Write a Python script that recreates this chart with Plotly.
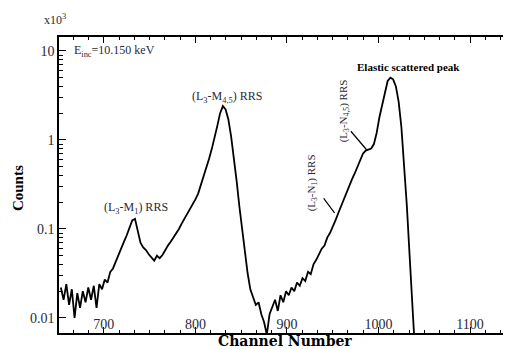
import plotly.graph_objects as go

channels = list(range(653, 1041, 3))
counts = [
    0.022, 0.016, 0.024, 0.014, 0.021, 0.010, 0.019, 0.013, 0.020, 0.015,
    0.022, 0.016, 0.023, 0.013, 0.024, 0.021, 0.027, 0.025, 0.033, 0.036,
    0.043, 0.052, 0.060, 0.072, 0.085, 0.105, 0.125, 0.130, 0.095, 0.070,
    0.062, 0.058, 0.052, 0.048, 0.044, 0.050, 0.047, 0.051, 0.058, 0.065,
    0.072, 0.080, 0.090, 0.100, 0.115, 0.130, 0.145, 0.165, 0.190, 0.215,
    0.250, 0.31, 0.38, 0.48, 0.62, 0.80, 1.05, 1.45, 2.0, 2.4,
    2.2, 1.7, 1.1, 0.65, 0.35, 0.18, 0.10, 0.055, 0.032, 0.021,
    0.017, 0.014, 0.015, 0.011, 0.009, 0.0065, 0.011, 0.013, 0.016, 0.012,
    0.018, 0.015, 0.020, 0.018, 0.022, 0.020, 0.025, 0.023, 0.028, 0.026,
    0.033, 0.031, 0.040, 0.045, 0.052, 0.060, 0.065, 0.080, 0.090, 0.105,
    0.125, 0.150, 0.180, 0.21, 0.25, 0.30, 0.36, 0.42, 0.50, 0.60,
    0.70, 0.76, 0.78, 0.80, 0.90, 1.20, 1.80, 2.40, 3.40, 4.60,
    5.0, 4.8, 4.0, 2.7, 1.4, 0.55, 0.18, 0.05, 0.012, 0.004,
]

x_tickvals = [700, 800, 900, 1000, 1100]
x_ticktext = ["700", "800", "900", "1000", "1100"]
y_tickvals = [0.01, 0.1, 1, 10]
y_ticktext = ["0.01", "0.1", "1", "10"]
y_minor = [m * d for d in (0.01, 0.1, 1) for m in range(2, 10)]

serif = "Liberation Serif"
ink = "#2a2a3a"
y_range = [-2.169, 1.157]

fig = go.Figure()
fig.add_trace(go.Scatter(x=channels, y=counts, mode="lines",
                         line=dict(color="black", width=1.8), showlegend=False))
# invisible helper trace on the minor-tick axis
fig.add_trace(go.Scatter(x=[channels[0]], y=[counts[0]], yaxis="y2", mode="markers",
                         marker=dict(opacity=0), showlegend=False, hoverinfo="skip"))

fig.update_layout(
    width=506, height=349,
    margin=dict(l=59, r=3, t=37, b=16),
    paper_bgcolor="white", plot_bgcolor="white",
    font=dict(family=serif, color=ink, size=14),
    xaxis=dict(
        range=[651, 1136], showgrid=False, zeroline=False,
        showline=True, linecolor="black", linewidth=1.5, mirror="ticks",
        ticks="inside", ticklen=6, tickcolor="black",
        tickvals=x_tickvals, ticktext=x_ticktext,
        ticklabelstandoff=-23, tickfont=dict(size=14, color=ink),
        minor=dict(ticks="inside", ticklen=3, dtick=100 / 6, tick0=700,
                   tickcolor="black", showgrid=False),
    ),
    yaxis=dict(
        type="log", range=y_range, showgrid=False, zeroline=False,
        showline=True, linecolor="black", linewidth=1.5,
        ticks="inside", ticklen=7, tickcolor="black",
        tickvals=y_tickvals, ticktext=y_ticktext,
        tickfont=dict(size=14, color=ink),
    ),
    yaxis2=dict(
        type="log", range=y_range, overlaying="y", side="left", anchor="x",
        showgrid=False, zeroline=False, showline=False,
        ticks="inside", ticklen=4, tickcolor="black",
        tickvals=y_minor, showticklabels=False,
    ),
)

fig.add_annotation(x=-0.01, y=1.06, xref="paper", yref="paper", text="x10<sup>3</sup>",
                   xanchor="center", yanchor="middle", font=dict(size=12, color=ink),
                   showarrow=False)
fig.add_annotation(x=665, y=1.0, text="E<sub>inc</sub>=10.150 keV", xanchor="left",
                   yanchor="middle", font=dict(size=12, color=ink), showarrow=False)
fig.add_annotation(x=794, y=0.48, text="(L<sub>3</sub>-M<sub>4,5</sub>) RRS",
                   xanchor="left", yanchor="middle", font=dict(size=12, color=ink),
                   showarrow=False)
fig.add_annotation(x=698, y=-0.76, text="(L<sub>3</sub>-M<sub>1</sub>) RRS",
                   xanchor="left", yanchor="middle", font=dict(size=12, color=ink),
                   showarrow=False)
fig.add_annotation(x=927, y=-0.48, text="(L<sub>3</sub>-N<sub>1</sub>) RRS", textangle=-90,
                   xanchor="center", yanchor="middle", font=dict(size=11, color=ink),
                   showarrow=False)
fig.add_annotation(x=962, y=0.33, text="(L<sub>3</sub>-N<sub>4,5</sub>) RRS", textangle=-90,
                   xanchor="center", yanchor="middle", font=dict(size=11, color=ink),
                   showarrow=False)
fig.add_annotation(x=1033, y=0.82, text="<b>Elastic scattered peak</b>",
                   xanchor="center", yanchor="middle", font=dict(size=11, color="black"),
                   showarrow=False)
fig.add_annotation(x=952, y=-0.82, text="", showarrow=True, arrowhead=0,
                   arrowwidth=1.2, arrowcolor="black", ax=-12, ay=-16)
fig.add_annotation(x=987, y=-0.11, text="", showarrow=True, arrowhead=0,
                   arrowwidth=1.2, arrowcolor="black", ax=-17, ay=-20)
fig.add_annotation(x=0.51, y=-0.0255, xref="paper", yref="paper", text="<b>Channel Number</b>",
                   xanchor="center", yanchor="middle",
                   font=dict(family="DejaVu Serif", size=14, color="black"),
                   showarrow=False)
fig.add_annotation(x=-0.092, y=0.49, xref="paper", yref="paper", text="<b>Counts</b>",
                   textangle=-90, xanchor="center", yanchor="middle",
                   font=dict(size=15, color="black"), showarrow=False)

fig.write_html("out.html", config={"displayModeBar": False},
               post_script="document.body.style.margin='0px';")
